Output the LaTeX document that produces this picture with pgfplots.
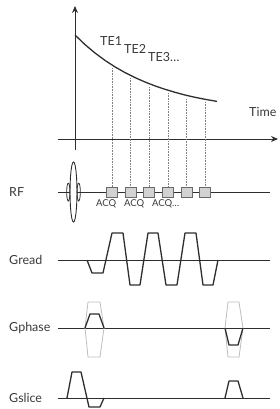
\documentclass[border=0pt]{standalone}
\usepackage{fontspec}
\setmainfont{Lato}
\usepackage{pgfplots}
\pgfplotsset{compat=1.18}
\usetikzlibrary{arrows.meta}
\definecolor{ink}{HTML}{2E2E2E}
\definecolor{txt}{HTML}{3A3A3A}
\definecolor{boxfill}{HTML}{D2D2D2}
\definecolor{boxedge}{HTML}{6A6A6A}
\definecolor{light}{HTML}{BDBDBD}
\begin{document}
\begin{tikzpicture}
\begin{axis}[width=280pt, height=409pt, scale only axis,
  xmin=0, xmax=280, ymin=0, ymax=409, y dir=reverse,
  hide axis, clip=false]
% top signal axes
\addplot[ink, line width=1pt, -{Stealth[length=7pt,width=6pt]}] coordinates {(75,150) (75,6)};
\addplot[ink, line width=1pt, -{Stealth[length=7pt,width=6pt]}] coordinates {(58,139) (278,139)};
% decay curve
\addplot[ink, line width=1.3pt] coordinates {
(75,35) (85,44.6) (95,53) (105,60.4) (115,66.9) (125,72.6) (135,77.6) (145,82)
(155,85.9) (165,89.3) (175,92.3) (185,95) (195,97.3) (205,99.3) (217,101.4)};
% dotted echo lines
\addplot[gray, densely dotted, line width=0.6pt] coordinates {(112,68) (112,187)};
\addplot[gray, densely dotted, line width=0.6pt] coordinates {(130.5,78) (130.5,187)};
\addplot[gray, densely dotted, line width=0.6pt] coordinates {(149,87) (149,187)};
\addplot[gray, densely dotted, line width=0.6pt] coordinates {(168,93) (168,187)};
\addplot[gray, densely dotted, line width=0.6pt] coordinates {(186.5,99) (186.5,187)};
\addplot[gray, densely dotted, line width=0.6pt] coordinates {(205,102) (205,187)};
% baselines
\addplot[ink, line width=1pt] coordinates {(58,192) (270,192)};
\addplot[ink, line width=1pt] coordinates {(58,260) (270,260)};
\addplot[ink, line width=1pt] coordinates {(58,328) (270,328)};
\addplot[ink, line width=1pt] coordinates {(58,398) (270,398)};
% RF pulse
\addplot[ink, line width=0.9pt, fill=white] coordinates {
(73.5,162) (74.41,163) (75.25,166) (75.97,170.8) (76.53,177) (76.88,184.2) (77,192)
(76.88,199.8) (76.53,207) (75.97,213.2) (75.25,218) (74.41,221) (73.5,222)
(72.59,221) (71.75,218) (71.03,213.2) (70.47,207) (70.12,199.8) (70,192)
(70.12,184.2) (70.47,177) (71.03,170.8) (71.75,166) (72.59,163) (73.5,162)} -- cycle;
\addplot[ink, line width=0.8pt, smooth] coordinates {
(68.3,183) (69.1,184.2) (69.69,187.5) (69.9,192) (69.69,196.5) (69.1,199.8) (68.3,201)
(67.5,199.8) (66.91,196.5) (66.7,192) (66.91,187.5) (67.5,184.2) (68.3,183)};
\addplot[ink, line width=0.8pt, smooth] coordinates {
(78.7,183) (79.5,184.2) (80.09,187.5) (80.3,192) (80.09,196.5) (79.5,199.8) (78.7,201)
(77.9,199.8) (77.31,196.5) (77.1,192) (77.31,187.5) (77.9,184.2) (78.7,183)};
% ACQ boxes
\addplot[fill=boxfill, draw=boxedge, line width=0.8pt] coordinates {(106.5,187) (117.5,187) (117.5,197) (106.5,197)} -- cycle;
\addplot[fill=boxfill, draw=boxedge, line width=0.8pt] coordinates {(125,187) (136,187) (136,197) (125,197)} -- cycle;
\addplot[fill=boxfill, draw=boxedge, line width=0.8pt] coordinates {(143.5,187) (154.5,187) (154.5,197) (143.5,197)} -- cycle;
\addplot[fill=boxfill, draw=boxedge, line width=0.8pt] coordinates {(162.5,187) (173.5,187) (173.5,197) (162.5,197)} -- cycle;
\addplot[fill=boxfill, draw=boxedge, line width=0.8pt] coordinates {(181,187) (192,187) (192,197) (181,197)} -- cycle;
\addplot[fill=boxfill, draw=boxedge, line width=0.8pt] coordinates {(199.5,187) (210.5,187) (210.5,197) (199.5,197)} -- cycle;
% Gread
\addplot[ink, line width=1.3pt, line join=round] coordinates {
(87,260) (92,273) (103,273) (112,233) (123,233) (130,285) (140,285) (148,233)
(158,233) (166,285) (177,285) (185,233) (196,233) (203,285) (213,285) (218,260)};
% Gphase
\addplot[light, line width=0.8pt] coordinates {(85,328) (88,302) (100,302) (104,328) (100,357) (88,357)} -- cycle;
\addplot[light, line width=0.8pt] coordinates {(225,328) (228,302) (239,302) (243,328) (239,357) (228,357)} -- cycle;
\addplot[ink, line width=1.3pt, line join=round] coordinates {(85,328) (90,314) (99,314) (104,328)};
\addplot[ink, line width=1.3pt, line join=round] coordinates {(225,328) (229,345) (238,345) (243,328)};
% Gslice
\addplot[ink, line width=1.3pt, line join=round] coordinates {
(67,398) (72,372) (81,372) (89,407) (100,407) (104,398)};
\addplot[ink, line width=1.3pt, line join=round] coordinates {(225,398) (229,381) (238,381) (243,398)};
% labels
\node[anchor=west, font=\fontsize{12.5}{13}\selectfont, text=txt, inner sep=0pt] at (axis cs:9,192) {RF};
\node[anchor=west, font=\fontsize{12.5}{13}\selectfont, text=txt, inner sep=0pt] at (axis cs:9,260) {Gread};
\node[anchor=west, font=\fontsize{12.5}{13}\selectfont, text=txt, inner sep=0pt] at (axis cs:9,328) {Gphase};
\node[anchor=west, font=\fontsize{12.5}{13}\selectfont, text=txt, inner sep=0pt] at (axis cs:9,398) {Gslice};
\node[anchor=west, font=\fontsize{12.5}{13}\selectfont, text=txt, inner sep=0pt] at (axis cs:249,112) {Time};
\node[anchor=west, font=\fontsize{12.5}{13}\selectfont, text=txt, inner sep=0pt] at (axis cs:100,41) {TE1};
\node[anchor=west, font=\fontsize{12.5}{13}\selectfont, text=txt, inner sep=0pt] at (axis cs:124,49) {TE2};
\node[anchor=west, font=\fontsize{12.5}{13}\selectfont, text=txt, inner sep=0pt] at (axis cs:148,57) {TE3\ldots};
\node[anchor=west, font=\fontsize{9.5}{10}\selectfont, text=txt, inner sep=0pt] at (axis cs:96,204) {ACQ};
\node[anchor=west, font=\fontsize{9.5}{10}\selectfont, text=txt, inner sep=0pt] at (axis cs:124,204) {ACQ};
\node[anchor=west, font=\fontsize{9.5}{10}\selectfont, text=txt, inner sep=0pt] at (axis cs:152,204) {ACQ\ldots};
\end{axis}
\path (current axis.south west) rectangle (current axis.north east);
\end{tikzpicture}
\end{document}
